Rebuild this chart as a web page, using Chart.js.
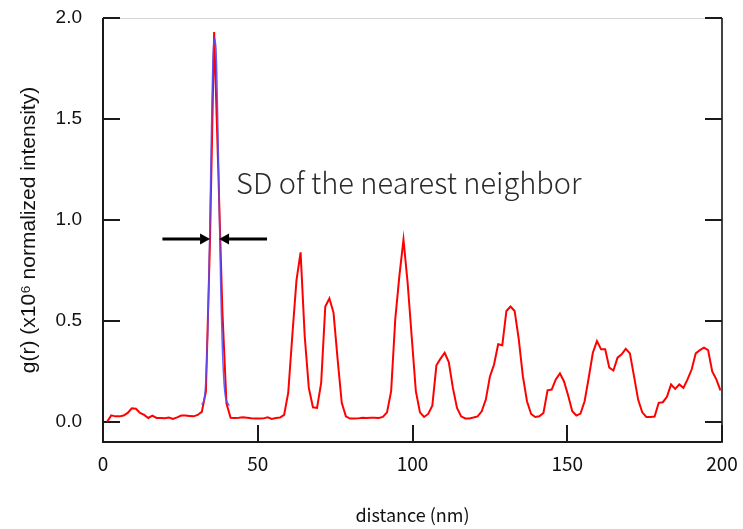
<!DOCTYPE html>
<html>
<head>
<meta charset="utf-8">
<script src="https://cdn.jsdelivr.net/npm/chart.js@4/dist/chart.umd.min.js"></script>
<style>
  html, body { margin: 0; padding: 0; background: #fff; }
  canvas { display: block; }
</style>
</head>
<body>
<canvas id="grChart" width="743" height="529"></canvas>
<script>
// distance (nm) of each g(r) sample
const distances = [
  1.33, 2.66, 3.99, 5.32, 6.65, 7.98, 9.31, 10.64, 11.97, 13.30,
  14.63, 15.96, 17.29, 18.62, 19.95, 21.28, 22.61, 23.94, 25.27, 26.60,
  27.93, 29.26, 30.59, 31.92, 33.25, 34.58, 35.91, 37.24, 38.57, 39.90,
  41.23, 42.56, 43.89, 45.22, 46.55, 47.88, 49.21, 50.54, 51.87, 53.20,
  54.53, 55.86, 57.19, 58.52, 59.85, 61.18, 62.51, 63.84, 65.17, 66.50,
  67.83, 69.16, 70.49, 71.82, 73.15, 74.48, 75.81, 77.14, 78.47, 79.80,
  81.13, 82.46, 83.79, 85.12, 86.45, 87.78, 89.11, 90.44, 91.77, 93.10,
  94.43, 95.76, 97.09, 98.42, 99.75, 101.08, 102.41, 103.74, 105.07, 106.40,
  107.73, 109.06, 110.39, 111.72, 113.05, 114.38, 115.71, 117.04, 118.37, 119.70,
  121.03, 122.36, 123.69, 125.02, 126.35, 127.68, 129.01, 130.34, 131.67, 133.00,
  134.33, 135.66, 136.99, 138.32, 139.65, 140.98, 142.31, 143.64, 144.97, 146.30,
  147.63, 148.96, 150.29, 151.62, 152.95, 154.28, 155.61, 156.94, 158.27, 159.60,
  160.93, 162.26, 163.59, 164.92, 166.25, 167.58, 168.91, 170.24, 171.57, 172.90,
  174.23, 175.56, 176.89, 178.22, 179.55, 180.88, 182.21, 183.54, 184.87, 186.20,
  187.53, 188.86, 190.19, 191.52, 192.85, 194.18, 195.51, 196.84, 198.17, 199.50
];

// g(r), x10^6 normalized intensity
const gr = [
  0.000, 0.032, 0.027, 0.027, 0.031, 0.044, 0.067, 0.065, 0.044, 0.034,
  0.019, 0.031, 0.019, 0.019, 0.018, 0.021, 0.014, 0.022, 0.031, 0.031,
  0.029, 0.027, 0.034, 0.049, 0.150, 0.900, 1.930, 1.250, 0.550, 0.090,
  0.020, 0.019, 0.020, 0.022, 0.020, 0.018, 0.017, 0.016, 0.017, 0.022,
  0.014, 0.019, 0.021, 0.034, 0.144, 0.430, 0.700, 0.839, 0.425, 0.168,
  0.072, 0.069, 0.193, 0.571, 0.611, 0.541, 0.309, 0.094, 0.027, 0.016,
  0.016, 0.017, 0.020, 0.019, 0.020, 0.020, 0.019, 0.024, 0.047, 0.152,
  0.508, 0.723, 0.902, 0.690, 0.420, 0.152, 0.047, 0.024, 0.039, 0.080,
  0.280, 0.313, 0.342, 0.296, 0.168, 0.069, 0.027, 0.017, 0.017, 0.021,
  0.027, 0.052, 0.110, 0.225, 0.284, 0.384, 0.379, 0.549, 0.571, 0.549,
  0.409, 0.226, 0.102, 0.039, 0.024, 0.027, 0.044, 0.156, 0.160, 0.210,
  0.240, 0.200, 0.130, 0.052, 0.031, 0.041, 0.102, 0.218, 0.342, 0.400,
  0.359, 0.359, 0.268, 0.254, 0.318, 0.334, 0.362, 0.339, 0.226, 0.110,
  0.047, 0.024, 0.024, 0.026, 0.094, 0.097, 0.124, 0.185, 0.163, 0.185,
  0.168, 0.210, 0.259, 0.339, 0.355, 0.367, 0.355, 0.250, 0.210, 0.156
];

// fitted nearest-neighbour peak (blue)
const fitX = [31.9, 32.5, 33.0, 33.5, 34.0, 34.5, 35.0, 35.5, 36.0, 36.5, 37.0, 37.5, 38.0, 38.5, 39.0, 39.5, 40.0, 40.8];
const fitY = [0.085, 0.10, 0.15, 0.30, 0.55, 0.95, 1.40, 1.78, 1.90, 1.85, 1.55, 1.12, 0.70, 0.40, 0.22, 0.13, 0.10, 0.08];

const xTicks = [0, 50, 100, 150, 200];
const yTicks = [0.0, 0.5, 1.0, 1.5, 2.0];

// annotation: label and the two arrows (data units)
const noteText = 'SD of the nearest neighbor';
const noteAt = { x: 43.0, y: 1.13 };
const arrowY = 0.905;
const arrowLeft = [19.2, 34.6];
const arrowRight = [53.0, 37.5];

const TICK = 17;

const toPoints = (xs, ys) => xs.map((x, i) => ({ x: x, y: ys[i] }));

const seg = (ctx, x1, y1, x2, y2) => {
  ctx.beginPath();
  ctx.moveTo(x1, y1);
  ctx.lineTo(x2, y2);
  ctx.stroke();
};

const arrow = (ctx, x1, x2, y) => {
  const dir = Math.sign(x2 - x1);
  const head = 10;
  ctx.lineWidth = 3;
  seg(ctx, x1, y, x2 - dir * head, y);
  ctx.beginPath();
  ctx.moveTo(x2, y);
  ctx.lineTo(x2 - dir * head, y - 5.5);
  ctx.lineTo(x2 - dir * head, y + 5.5);
  ctx.closePath();
  ctx.fill();
};

const framePlugin = {
  id: 'frame',
  beforeDatasetsDraw: (chart) => {
    const { ctx, chartArea: a, scales: { x, y } } = chart;
    ctx.save();
    ctx.lineCap = 'butt';
    ctx.strokeStyle = '#d6d6d6';
    ctx.lineWidth = 1;
    seg(ctx, a.left, a.top + 0.5, a.right, a.top + 0.5);

    ctx.strokeStyle = '#1a1a1a';
    ctx.lineWidth = 2;
    seg(ctx, a.left, a.top, a.left, a.bottom + 1);
    seg(ctx, a.left - 1, a.bottom, a.right + 1, a.bottom);
    ctx.strokeStyle = '#444';
    seg(ctx, a.right, a.top, a.right, a.bottom + 1);

    ctx.strokeStyle = '#1a1a1a';
    xTicks.forEach(v => {
      const px = Math.round(x.getPixelForValue(v));
      seg(ctx, px, a.bottom, px, a.bottom - TICK);
    });
    yTicks.forEach(v => {
      const py = Math.round(y.getPixelForValue(v));
      seg(ctx, a.left, py, a.left + TICK, py);
      seg(ctx, a.right - TICK, py, a.right, py);
    });
    ctx.restore();
  },
  afterDatasetsDraw: (chart) => {
    const { ctx, scales: { x, y } } = chart;
    ctx.save();
    ctx.fillStyle = '#2a2a2a';
    ctx.font = '300 29px "Noto Sans CJK JP", "Noto Sans", sans-serif';
    ctx.textBaseline = 'alphabetic';
    ctx.fillText(noteText, x.getPixelForValue(noteAt.x), y.getPixelForValue(noteAt.y));

    ctx.fillStyle = '#000';
    ctx.strokeStyle = '#000';
    const ay = Math.round(y.getPixelForValue(arrowY));
    arrow(ctx, x.getPixelForValue(arrowLeft[0]), x.getPixelForValue(arrowLeft[1]), ay);
    arrow(ctx, x.getPixelForValue(arrowRight[0]), x.getPixelForValue(arrowRight[1]), ay);
    ctx.restore();
  }
};

const initChart = () => {
  const ctx = document.getElementById('grChart').getContext('2d');
  return new Chart(ctx, {
    type: 'line',
    data: {
      datasets: [{
        label: 'g(r)',
        data: toPoints(distances, gr),
        borderColor: '#ff0000',
        borderWidth: 2,
        pointRadius: 0,
        tension: 0,
        order: 2
      }, {
        label: 'fit',
        data: toPoints(fitX, fitY),
        borderColor: 'rgba(80, 80, 255, 0.9)',
        borderWidth: 1.5,
        pointRadius: 0,
        tension: 0.3,
        order: 1
      }]
    },
    options: {
      responsive: false,
      animation: false,
      devicePixelRatio: 1,
      layout: { padding: { top: 18, right: 21, left: 0, bottom: 0 } },
      plugins: { legend: { display: false }, tooltip: { enabled: false } },
      scales: {
        x: {
          type: 'linear',
          min: 0,
          max: 200,
          afterFit: s => {
            s.height = 87;
            s.paddingLeft = 0;
            s.paddingRight = 0;
          },
          afterBuildTicks: s => { s.ticks = xTicks.map(v => ({ value: v })); },
          grid: { display: false },
          border: { display: false },
          ticks: {
            padding: 2,
            maxRotation: 0,
            color: '#111',
            font: { family: '"Noto Sans CJK JP", sans-serif', size: 19 }
          },
          title: {
            display: true,
            text: 'distance (nm)',
            color: '#111',
            padding: { top: 0, bottom: 3 },
            font: { family: '"Noto Sans CJK JP", sans-serif', size: 18 }
          }
        },
        y: {
          type: 'linear',
          min: -0.1,
          max: 2.0,
          afterFit: s => {
            s.width = 103;
            s.paddingTop = 0;
            s.paddingBottom = 0;
          },
          afterBuildTicks: s => { s.ticks = yTicks.map(v => ({ value: v })); },
          grid: { display: false },
          border: { display: false },
          ticks: {
            padding: 13,
            color: '#111',
            font: { family: '"Liberation Sans", Arial, sans-serif', size: 19 },
            callback: v => v.toFixed(1)
          },
          title: {
            display: true,
            text: 'g(r) (x10⁶ normalized intensity)',
            color: '#111',
            padding: { top: 17, bottom: 0 },
            font: { family: '"Liberation Sans", Arial, sans-serif', size: 21 }
          }
        }
      }
    },
    plugins: [framePlugin]
  });
};

initChart();
</script>
</body>
</html>
